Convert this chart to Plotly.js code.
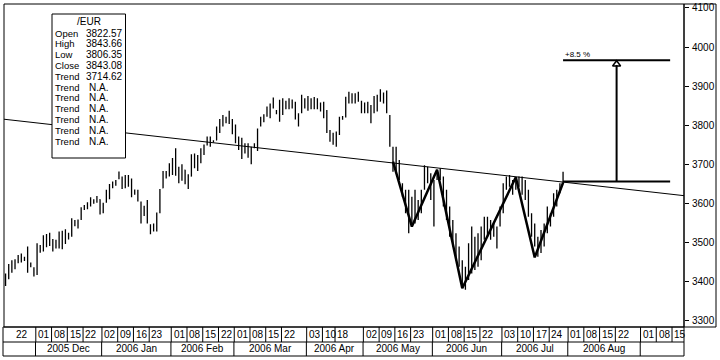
<!DOCTYPE html>
<html><head><meta charset="utf-8">
<script src="https://cdn.plot.ly/plotly-3.0.1.min.js"></script>
<style>html,body{margin:0;padding:0;background:#fff}#chart{width:720px;height:360px}</style>
</head><body><div id="chart"></div>
<script>
// ---- calendar (trading days shown on the axis) ----
const calendarStart = '2005-11-17';
const calendarEnd = '2006-09-20';
const holidays = ['2005-12-26','2006-04-14','2006-04-17','2006-05-01'];

// ---- daily OHLC, one value per trading day from 2005-11-17 ----
const openP = [
3395,3410,3440,3435,3450,3465,3455,3470,3440,3435,
3420,3490,3480,3510,3495,3505,3488,3495,3520,3500,
3520,3520,3555,3545,3560,3588,3590,3600,3605,3605,
3610,3580,3605,3630,3645,3650,3665,3665,3645,3665,
3650,3630,3628,3600,3570,3595,3545,3530,3540,3578,
3640,3675,3672,3695,3705,3680,3665,3685,3650,3670,
3715,3700,3710,3735,3750,3765,3758,3762,3790,3810,
3808,3820,3812,3780,3768,3745,3740,3745,3720,3745,
3745,3800,3815,3825,3845,3845,3835,3835,3840,3860,
3845,3862,3850,3815,3835,3865,3850,3862,3848,3865,
3855,3845,3830,3785,3770,3760,3780,3818,3825,3865,
3875,3862,3878,3860,3840,3850,3835,3835,3868,3865,
3882,3870,3822,3740,3700,3705,3650,3625,3580,3560,
3600,3565,3600,3640,3690,3660,3580,3665,3685,3660,
3600,3560,3530,3510,3470,3440,3400,3430,3480,3440,
3500,3460,3525,3550,3530,3540,3500,3545,3580,3645,
3660,3648,3640,3650,3660,3635,3615,3570,3525,3500,
3480,3525,3530,3560,3570,3615,3630,3655];
const highP = [
3421,3445,3455,3457,3468,3472,3464,3490,3449,3437,
3498,3494,3519,3522,3525,3509,3507,3528,3530,3534,
3525,3562,3558,3559,3590,3596,3603,3616,3611,3619,
3611,3602,3635,3650,3656,3660,3682,3669,3673,3673,
3664,3636,3635,3605,3594,3609,3547,3549,3577,3637,
3683,3683,3703,3716,3741,3694,3700,3686,3675,3726,
3728,3724,3741,3751,3771,3771,3762,3797,3816,3826,
3822,3837,3816,3802,3771,3768,3754,3754,3745,3754,
3792,3822,3828,3848,3856,3871,3839,3865,3869,3863,
3869,3866,3860,3831,3878,3869,3875,3869,3872,3869,
3858,3860,3839,3788,3781,3784,3822,3824,3873,3886,
3882,3882,3886,3863,3858,3860,3852,3875,3878,3892,
3884,3889,3826,3745,3745,3711,3652,3635,3635,3617,
3635,3609,3635,3698,3694,3677,3660,3686,3690,3669,
3635,3592,3558,3524,3490,3455,3438,3498,3541,3515,
3524,3541,3566,3566,3558,3549,3541,3592,3652,3669,
3673,3660,3664,3669,3669,3660,3635,3575,3549,3515,
3532,3549,3592,3575,3626,3635,3652,3681];
const lowP = [
3389,3406,3423,3432,3447,3449,3453,3423,3437,3413,
3417,3474,3477,3488,3491,3477,3485,3485,3483,3496,
3508,3515,3542,3536,3558,3583,3585,3592,3599,3602,
3572,3575,3602,3611,3639,3645,3662,3637,3639,3643,
3616,3622,3605,3549,3568,3549,3521,3528,3528,3575,
3639,3664,3669,3673,3671,3652,3658,3649,3637,3669,
3690,3683,3703,3724,3748,3745,3756,3762,3780,3797,
3805,3803,3777,3754,3737,3714,3728,3717,3700,3741,
3734,3797,3808,3822,3818,3843,3828,3809,3826,3841,
3841,3843,3815,3797,3831,3843,3837,3841,3841,3841,
3835,3818,3780,3758,3750,3745,3775,3814,3820,3856,
3856,3856,3860,3831,3831,3831,3805,3831,3835,3860,
3856,3831,3745,3681,3677,3660,3617,3575,3524,3541,
3549,3558,3575,3635,3652,3609,3541,3660,3660,3592,
3558,3515,3490,3455,3438,3387,3379,3404,3421,3430,
3438,3455,3507,3515,3507,3515,3485,3541,3575,3635,
3643,3622,3635,3643,3622,3609,3566,3515,3490,3464,
3473,3490,3524,3541,3566,3592,3626,3652];
const closeP = [
3410,3440,3430,3450,3465,3455,3460,3435,3445,3418,
3490,3480,3515,3495,3520,3482,3500,3525,3490,3530,
3512,3555,3548,3540,3585,3592,3600,3610,3605,3615,
3578,3598,3630,3645,3650,3655,3675,3642,3668,3650,
3625,3628,3610,3560,3588,3552,3525,3545,3570,3632,
3678,3670,3698,3705,3680,3660,3690,3655,3665,3720,
3700,3715,3738,3745,3768,3750,3760,3792,3810,3805,
3818,3832,3780,3790,3745,3730,3750,3722,3738,3750,
3788,3818,3810,3845,3825,3865,3832,3850,3862,3845,
3865,3848,3820,3825,3872,3850,3870,3848,3868,3850,
3840,3825,3790,3770,3760,3778,3815,3820,3868,3880,
3862,3878,3865,3838,3852,3835,3815,3870,3845,3888,
3865,3835,3750,3700,3720,3665,3625,3590,3560,3600,
3560,3600,3630,3690,3660,3640,3650,3680,3665,3600,
3570,3530,3500,3465,3445,3400,3430,3480,3440,3500,
3450,3530,3550,3525,3545,3525,3535,3580,3645,3660,
3650,3630,3655,3665,3630,3615,3575,3525,3500,3475,
3525,3540,3585,3570,3620,3600,3648,3676];

// ---- axis labels ----
const tickDates = ['2005-11-22','2005-12-01','2005-12-08','2005-12-15','2005-12-22','2006-01-02','2006-01-09','2006-01-16','2006-01-23','2006-02-01','2006-02-08','2006-02-15','2006-02-22','2006-03-01','2006-03-08','2006-03-15','2006-03-22','2006-04-03','2006-04-10','2006-04-18','2006-05-02','2006-05-09','2006-05-16','2006-05-23','2006-06-01','2006-06-08','2006-06-15','2006-06-22','2006-07-03','2006-07-10','2006-07-17','2006-07-24','2006-08-01','2006-08-08','2006-08-15','2006-08-22','2006-09-01','2006-09-08','2006-09-15'];
const tickLabels = ['22','01','08','15','22','02','09','16','23','01','08','15','22','01','08','15','22','03','10','18','02','09','16','23','01','08','15','22','03','10','17','24','01','08','15','22','01','08','15'];
const monthStarts = ['2005-12-01','2006-01-02','2006-02-01','2006-03-01','2006-04-03','2006-05-02','2006-06-01','2006-07-03','2006-08-01','2006-09-01'];
const monthLabels = ['2005 Dec','2006 Jan','2006 Feb','2006 Mar','2006 Apr','2006 May','2006 Jun','2006 Jul','2006 Aug'];
const yTicks = [3300,3400,3500,3600,3700,3800,3900,4000,4100];

// ---- drawn studies ----
const trendDates = ['2005-11-17','2006-09-15'];
const trendValues = [3815, 3623];
const zigDates = ['2006-05-15','2006-05-23','2006-06-02','2006-06-14','2006-07-07','2006-07-17','2006-07-28'];
const zigValues = [3707, 3541, 3686, 3383, 3667, 3462, 3653];
const neckDates = ['2006-07-28','2006-09-14'];
const neckLevel = 3656;
const targetLevel = 3966;
const targetText = '+8.5 %';
const arrowDate = '2006-08-22';

// ---- info box ----
const infoTitle = '/EUR';
const infoLabels = ['Open','High','Low','Close','Trend','Trend','Trend','Trend','Trend','Trend','Trend'];
const infoValues = ['3822.57','3843.66','3806.35','3843.08','3714.62','N.A.','N.A.','N.A.','N.A.','N.A.','N.A.'];

// ---------------------------------------------------------------
function buildCalendar(start, end, skip) {
  const out = [];
  const d = new Date(start + 'T00:00:00Z');
  const e = new Date(end + 'T00:00:00Z');
  while (d <= e) {
    const wd = d.getUTCDay();
    const s = d.toISOString().slice(0, 10);
    if (wd !== 0 && wd !== 6 && skip.indexOf(s) < 0) out.push(s);
    d.setUTCDate(d.getUTCDate() + 1);
  }
  return out;
}
const axisDays = buildCalendar(calendarStart, calendarEnd, holidays);
const pos = s => axisDays.indexOf(s);
const barX = axisDays.slice(0, openP.length).map(pos);

const W = 720, H = 360, ML = 4, MR = 36, MT = 4, MB = 33;
const PW = W - ML - MR, PH = H - MT - MB;
const xRange = [-0.5, 215.4];
const yRange = [3284, 4110.2];
const px = x => (x - ML) / PW;           // page px -> paper x
const py = y => 1 - (y - MT) / PH;       // page py -> paper y
const FONT = 'Liberation Sans, Arial, sans-serif';

// trend line extended to the axis edges
const t0 = pos(trendDates[0]), t1 = pos(trendDates[1]);
const slope = (trendValues[1] - trendValues[0]) / (t1 - t0);
const trendX = [xRange[0], xRange[1]];
const trendY = trendX.map(x => trendValues[0] + slope * (x - t0));

const traces = [
  {type: 'ohlc', x: barX, open: openP, high: highP, low: lowP, close: closeP,
   increasing: {line: {color: '#000', width: 1.3}}, decreasing: {line: {color: '#000', width: 1.3}},
   tickwidth: 0.2, hoverinfo: 'skip', showlegend: false},
  {type: 'scatter', mode: 'lines', x: trendX, y: trendY, line: {color: '#000', width: 1}, hoverinfo: 'skip', showlegend: false},
  {type: 'scatter', mode: 'lines', x: zigDates.map(pos), y: zigValues, line: {color: '#000', width: 2.5}, hoverinfo: 'skip', showlegend: false},
  {type: 'scatter', mode: 'lines', x: neckDates.map(pos), y: [neckLevel, neckLevel], line: {color: '#000', width: 2}, hoverinfo: 'skip', showlegend: false},
  {type: 'scatter', mode: 'lines', x: neckDates.map(pos), y: [targetLevel, targetLevel], line: {color: '#000', width: 2}, hoverinfo: 'skip', showlegend: false},
  {type: 'scatter', mode: 'lines', x: [pos(arrowDate), pos(arrowDate)], y: [neckLevel, targetLevel - 12], line: {color: '#000', width: 2}, hoverinfo: 'skip', showlegend: false},
  {type: 'scatter', mode: 'markers', x: [pos(arrowDate)], y: [targetLevel - 10], marker: {symbol: 'triangle-up-open', size: 7, color: '#000', line: {width: 1.5, color: '#000'}}, hoverinfo: 'skip', showlegend: false}
];

const L = {color: '#000', width: 1};
const shapes = [];
// frame of plot area
shapes.push({type: 'rect', xref: 'paper', yref: 'paper', x0: 0, x1: 1, y0: 0, y1: 1, line: L, layer: 'above'});
// y axis box
shapes.push({type: 'rect', xref: 'paper', yref: 'paper', x0: 1, x1: px(716), y0: 0, y1: 1, line: L, layer: 'above'});
// date label rows
const rowMid = py(342), rowBot = py(356);
shapes.push({type: 'rect', xref: 'paper', yref: 'paper', x0: px(3), x1: 1, y0: rowBot, y1: 0, line: L, layer: 'above'});
shapes.push({type: 'line', xref: 'paper', yref: 'paper', x0: px(3), x1: 1, y0: rowMid, y1: rowMid, line: L, layer: 'above'});
tickDates.forEach((d, k) => {
  if (k === 0) return;
  const x = pos(d) - 0.4;
  shapes.push({type: 'line', xref: 'x', yref: 'paper', x0: x, x1: x, y0: 0, y1: rowMid, line: L, layer: 'above'});
});
monthStarts.forEach(d => {
  const x = pos(d) - 0.5;
  shapes.push({type: 'line', xref: 'x', yref: 'paper', x0: x, x1: x, y0: rowMid, y1: rowBot, line: L, layer: 'above'});
});
// info box (covers trend line)
shapes.push({type: 'rect', xref: 'paper', yref: 'paper', x0: px(52), x1: px(125.5), y0: py(158), y1: py(14), line: L, fillcolor: '#fff', layer: 'above'});

const annotations = [];
tickDates.forEach((d, k) => {
  annotations.push({xref: 'x', yref: 'paper', x: pos(d), y: (0 + rowMid) / 2, xanchor: 'left', yanchor: 'middle',
    text: tickLabels[k], showarrow: false, font: {family: FONT, size: 10, color: '#000'}, borderpad: 0, xshift: 0});
});
monthLabels.forEach((m, k) => {
  const c = (pos(monthStarts[k]) + pos(monthStarts[k + 1])) / 2 - 0.5;
  annotations.push({xref: 'x', yref: 'paper', x: c, y: (rowMid + rowBot) / 2, xanchor: 'center', yanchor: 'middle',
    text: m, showarrow: false, font: {family: FONT, size: 10, color: '#000'}, borderpad: 0});
});
annotations.push({xref: 'paper', yref: 'paper', x: px(89), y: py(22), xanchor: 'center', yanchor: 'middle',
  text: infoTitle, showarrow: false, font: {family: FONT, size: 10, color: '#000'}, borderpad: 0});
infoLabels.forEach((lab, k) => {
  const yy = py(33 + 10.8 * k);
  annotations.push({xref: 'paper', yref: 'paper', x: px(54), y: yy, xanchor: 'left', yanchor: 'middle',
    text: lab, showarrow: false, font: {family: FONT, size: 9.5, color: '#000'}, borderpad: 0});
  annotations.push({xref: 'paper', yref: 'paper', x: px(infoValues[k] === 'N.A.' ? 88 : 85), y: yy, xanchor: 'left', yanchor: 'middle',
    text: infoValues[k], showarrow: false, font: {family: FONT, size: 10, color: '#000'}, borderpad: 0});
});
annotations.push({xref: 'x', yref: 'y', x: pos(neckDates[0]), y: targetLevel, xanchor: 'left', yanchor: 'bottom',
  text: targetText, showarrow: false, font: {family: FONT, size: 8, color: '#000'}, borderpad: 0, xshift: 1});

const layout = {
  width: W, height: H,
  margin: {l: ML, r: MR, t: MT, b: MB, pad: 0},
  paper_bgcolor: '#fff', plot_bgcolor: '#fff',
  showlegend: false,
  font: {family: FONT, size: 10, color: '#000'},
  xaxis: {range: xRange, showgrid: false, zeroline: false, showticklabels: false, ticks: '', showline: false, rangeslider: {visible: false}, fixedrange: true},
  yaxis: {range: yRange, side: 'right', tickvals: yTicks, ticktext: yTicks.map(String), ticks: 'outside', ticklen: 4, tickwidth: 1, tickcolor: '#000',
    showgrid: false, zeroline: false, showline: false, tickfont: {family: FONT, size: 10, color: '#000'}, fixedrange: true, ticklabelstandoff: 1},
  shapes: shapes,
  annotations: annotations
};

Plotly.newPlot('chart', traces, layout, {staticPlot: true, displayModeBar: false});
</script>
</body></html>
